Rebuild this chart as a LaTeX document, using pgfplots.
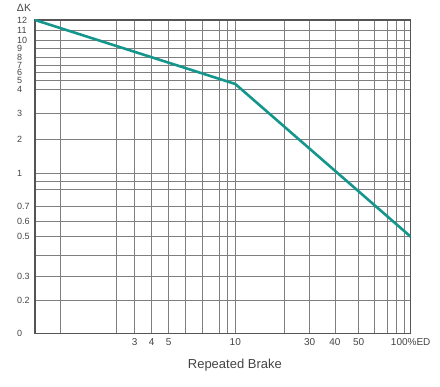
\documentclass[border=0pt]{standalone}
\usepackage{fontspec}
\setmainfont{Liberation Sans}
\usepackage{pgfplots}
\pgfplotsset{compat=1.18}
\definecolor{teal1}{HTML}{14968C}
\definecolor{gridc}{HTML}{7F7F7F}
\definecolor{axc}{HTML}{555555}
\definecolor{txt}{HTML}{444444}
\begin{document}
\begin{tikzpicture}
\begin{axis}[
  scale only axis, width=375.7pt, height=313.7pt,
  x coord trafo/.code={\pgfmathparse{
    (#1<1.5) ? (35+51.4*(#1-1)) : (
    (#1<2) ? (60.7+112*(#1-1.5)) : (
    (#1<3) ? (116.7+18*(#1-2)) : (
    (#1<4) ? (134.7+17*(#1-3)) : (
    (#1<5) ? (151.7+17*(#1-4)) : (
    (#1<6) ? (168.7+17*(#1-5)) : (
    (#1<7) ? (185.7+16.6*(#1-6)) : (
    (#1<8) ? (202.3+17*(#1-7)) : (
    (#1<9) ? (219.3+8.4*(#1-8)) : (
    (#1<10) ? (227.7+7.6*(#1-9)) : (
    (#1<20) ? (235.3+4.9*(#1-10)) : (
    (#1<30) ? (284.3+2.54*(#1-20)) : (
    (#1<40) ? (309.7+2.53*(#1-30)) : (
    (#1<50) ? (335+2.37*(#1-40)) : (
    (#1<60) ? (358.7+1.56*(#1-50)) : (
    (#1<70) ? (374.3+1.34*(#1-60)) : (
    (#1<80) ? (387.7+0.9*(#1-70)) : (
    (#1<90) ? (396.7+0.73*(#1-80)) : (404+0.67*(#1-90))
    )))))))))))))))))}},
  y coord trafo/.code={\pgfmathparse{
    (#1<0.2) ? (53.3+167*#1) : (
    (#1<0.3) ? (86.7+240*(#1-0.2)) : (
    (#1<0.4) ? (110.7+210*(#1-0.3)) : (
    (#1<0.5) ? (131.7+186*(#1-0.4)) : (
    (#1<0.6) ? (150.3+150*(#1-0.5)) : (
    (#1<0.7) ? (165.3+154*(#1-0.6)) : (
    (#1<0.8) ? (180.7+170*(#1-0.7)) : (
    (#1<0.9) ? (197.7+76*(#1-0.8)) : (
    (#1<1) ? (205.3+84*(#1-0.9)) : (
    (#1<2) ? (213.7+34*(#1-1)) : (
    (#1<3) ? (247.7+26*(#1-2)) : (
    (#1<4) ? (273.7+24*(#1-3)) : (
    (#1<5) ? (297.7+9.3*(#1-4)) : (
    (#1<6) ? (307+7.3*(#1-5)) : (
    (#1<7) ? (314.3+7.7*(#1-6)) : (
    (#1<8) ? (322+7.7*(#1-7)) : (
    (#1<9) ? (329.7+9*(#1-8)) : (
    (#1<10) ? (338.7+8.3*(#1-9)) : (
    (#1<11) ? (347+9.3*(#1-10)) : (356.3+10.7*(#1-11))
    ))))))))))))))))))}},
  xmin=1, xmax=100, ymin=0, ymax=12,
  xtick={1,1.5,2,3,4,5,6,7,8,9,10,20,30,40,50,60,70,80,90,100},
  xticklabels={,,,3,4,5,,,,,10,,30,40,50,,,,,100\%ED},
  ytick={0,0.2,0.3,0.4,0.5,0.6,0.7,0.8,0.9,1,2,3,4,5,6,7,8,9,10,11,12},
  yticklabels={0,0.2,0.3,,0.5,0.6,0.7,,,1,2,3,4,5,6,7,8,9,10,11,12},
  major tick length=0pt,
  grid=major,
  major grid style={draw=gridc, line width=0.9pt},
  axis line style={draw=axc, line width=1.3pt},
  tick label style={text=txt},
  xticklabel style={font=\fontsize{10}{10}\selectfont, anchor=center, yshift=-8.6pt},
  yticklabel style={font=\fontsize{9}{9}\selectfont, anchor=west, inner xsep=0pt, inner ysep=0pt, xshift=-18pt},
  xlabel={Repeated Brake},
  xlabel style={font=\fontsize{13}{14}\selectfont, text=txt, at={(axis description cs:0.532,0)}, anchor=center, yshift=-31.3pt},
]
\addplot[draw=teal1, line width=2.6pt, line join=round] coordinates {(1,12) (10,4.57) (100,0.5)};
\end{axis}
\node[font=\fontsize{10.5}{11}\selectfont, text=txt] at ([xshift=-11pt,yshift=12.5pt]current axis.north west) {ΔK};
\path (current axis.south west) ++(-35pt,-53.3pt) rectangle ++(440pt,387pt);
\end{tikzpicture}
\end{document}
